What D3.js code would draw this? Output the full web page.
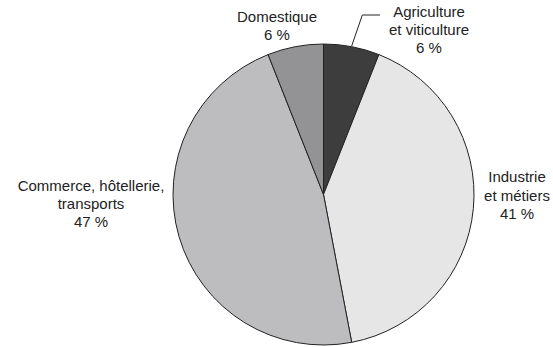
<!DOCTYPE html>
<html><head><meta charset="utf-8">
<script src="https://cdn.jsdelivr.net/npm/d3@7"></script>
<style>body{margin:0;background:#fff}svg{display:block}text{font-family:"Liberation Sans",Arial,sans-serif;font-size:15px;fill:#222}</style>
</head><body>
<script>
const categories = ["Agriculture et viticulture", "Industrie et métiers", "Commerce, hôtellerie, transports", "Domestique"];
const values = [6, 41, 47, 6];
const labelLines = [["Agriculture", "et viticulture", "6 %"], ["Industrie", "et métiers", "41 %"], ["Commerce, hôtellerie,", "transports", "47 %"], ["Domestique", "6 %"]];
const colors = ["#3d3d3d", "#e6e6e7", "#bdbdc0", "#939396"];

const W = 553, H = 347, cx = 323.5, cy = 194.5, R = 150.5;
const svg = d3.select("body").append("svg").attr("width", W).attr("height", H);
const g = svg.append("g").attr("transform", `translate(${cx},${cy})`);
const pie = d3.pie().sort(null).value(d => d)(values);
const arc = d3.arc().innerRadius(0).outerRadius(R);
g.selectAll("path").data(pie).join("path")
  .attr("d", arc).attr("fill", (d, i) => colors[i])
  .attr("stroke", "#222").attr("stroke-width", 1);

const labelPos = [[429, 12], [517, 177], [91, 186], [277, 17]];
const lh = [18, 18.5, 18, 18];
labelLines.forEach((lines, i) => {
  const t = svg.append("text").attr("text-anchor", "middle");
  lines.forEach((s, j) => {
    t.append("tspan").attr("x", labelPos[i][0]).attr("y", labelPos[i][1] + j * lh[i]).attr("dy", "0.35em").text(s);
  });
});
// leader for Agriculture
svg.append("polyline").attr("points", "351.7,46 362.3,15 380,15").attr("fill", "none").attr("stroke", "#222").attr("stroke-width", 1);
</script>
</body></html>
